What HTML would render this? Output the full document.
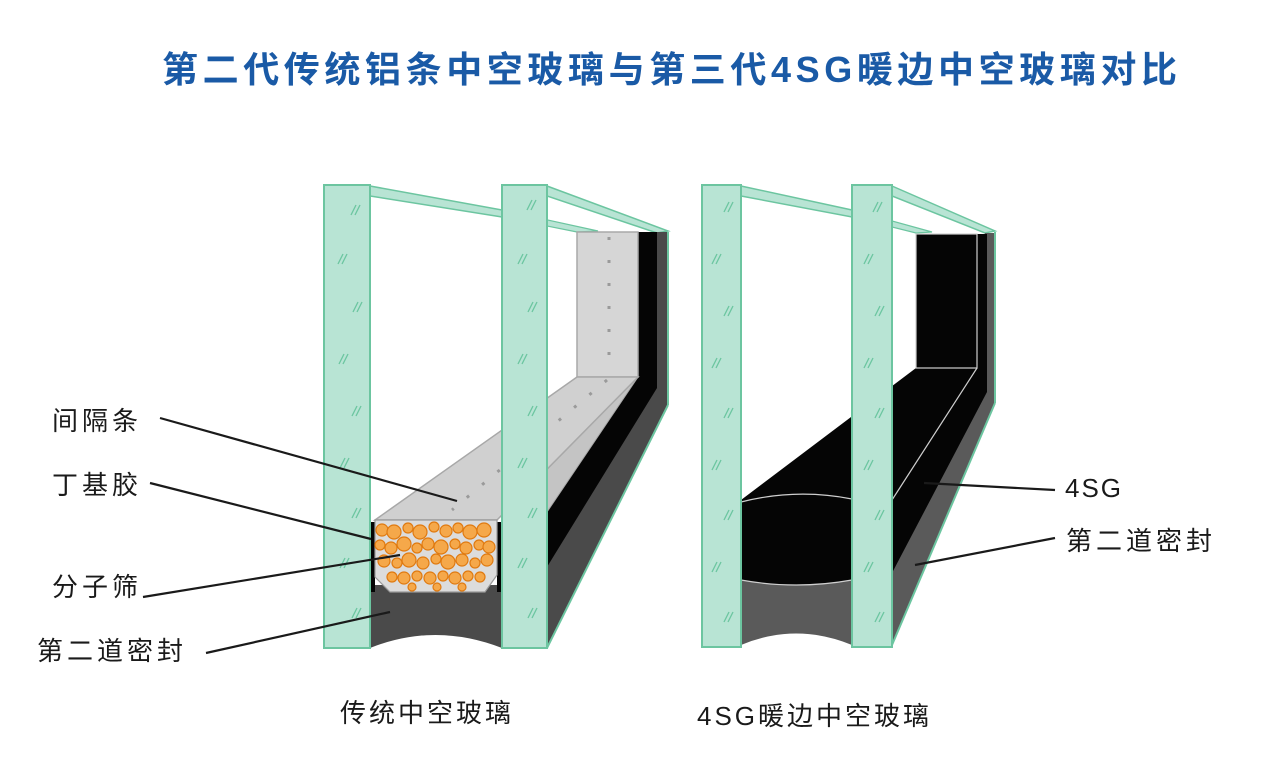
<!DOCTYPE html>
<html><head><meta charset="utf-8"><style>
html,body{margin:0;padding:0;background:#fff;width:1280px;height:778px;overflow:hidden}
svg{display:block}
.t{font-family:"Liberation Sans","Noto Sans CJK SC",sans-serif}
</style></head><body>
<svg width="1280" height="778" viewBox="0 0 1280 778" xmlns="http://www.w3.org/2000/svg">
<defs>
<g id="sl"><line x1="0" y1="6" x2="5" y2="-4" stroke="#6cc5a0" stroke-width="1.3"/><line x1="4" y1="6" x2="9" y2="-4" stroke="#6cc5a0" stroke-width="1.3"/></g>
</defs>
<text class="t" x="162" y="82" font-size="36" font-weight="bold" fill="#1a5aa6" letter-spacing="4.6">第二代传统铝条中空玻璃与第三代4SG暖边中空玻璃对比</text>

<!-- LEFT DIAGRAM -->
<polygon points="370,186 502,210 502,217 370,196" fill="#b8e4d4" stroke="#6cc5a0" stroke-width="1.5"/>
<polygon points="502,210 598,231 577,232 502,217" fill="#b8e4d4" stroke="#6cc5a0" stroke-width="1.2"/>
<polygon points="547,186 668,231 657,233 547,196" fill="#b8e4d4" stroke="#6cc5a0" stroke-width="1.5"/>
<polygon points="655,232 668,232 668,405 547,648 547,560" fill="#4a4a4a"/>
<path d="M370,585 L502,585 L502,648 Q435,622 370,648 Z" fill="#4a4a4a"/>
<polygon points="638,232 657,232 657,388 547,567 547,510 638,377" fill="#050505"/>
<polygon points="547,467 638,377 547,512" fill="#c4c4c4" stroke="#a8a8a8" stroke-width="1"/>
<rect x="577" y="232" width="61" height="145" fill="#d6d6d6" stroke="#a8a8a8" stroke-width="1.5"/>
<polygon points="375,520 577,377 638,377 497,520" fill="#d0d0d0" stroke="#a8a8a8" stroke-width="1.5"/>
<line x1="609" y1="237" x2="609" y2="375" stroke="#9a9a9a" stroke-width="3" stroke-dasharray="3,20"/>
<line x1="607" y1="380" x2="452" y2="510" stroke="#9a9a9a" stroke-width="3" stroke-dasharray="3,17"/>
<rect x="369" y="522" width="6" height="70" fill="#050505"/>
<rect x="497" y="522" width="6" height="70" fill="#050505"/>
<polygon points="375,520 497,520 497,575 485,592 390,592 375,577" fill="#dcdcdc" stroke="#999" stroke-width="1.2"/>
<g fill="#f5a84a" stroke="#e07a10" stroke-width="1.2">
<circle cx="382" cy="530" r="6"/><circle cx="394" cy="532" r="7"/><circle cx="408" cy="528" r="5"/><circle cx="420" cy="532" r="7"/><circle cx="434" cy="527" r="5"/><circle cx="446" cy="531" r="6"/><circle cx="458" cy="528" r="5"/><circle cx="470" cy="532" r="7"/><circle cx="484" cy="530" r="7"/>
<circle cx="380" cy="545" r="5"/><circle cx="391" cy="548" r="6"/><circle cx="404" cy="544" r="7"/><circle cx="417" cy="548" r="5"/><circle cx="428" cy="544" r="6"/><circle cx="441" cy="547" r="7"/><circle cx="455" cy="544" r="5"/><circle cx="466" cy="548" r="6"/><circle cx="479" cy="545" r="5"/><circle cx="489" cy="547" r="6"/>
<circle cx="384" cy="561" r="6"/><circle cx="397" cy="563" r="5"/><circle cx="409" cy="560" r="7"/><circle cx="423" cy="563" r="6"/><circle cx="436" cy="559" r="5"/><circle cx="448" cy="562" r="7"/><circle cx="462" cy="560" r="6"/><circle cx="475" cy="563" r="5"/><circle cx="487" cy="560" r="6"/>
<circle cx="392" cy="577" r="5"/><circle cx="404" cy="578" r="6"/><circle cx="417" cy="576" r="5"/><circle cx="430" cy="578" r="6"/><circle cx="443" cy="576" r="5"/><circle cx="455" cy="578" r="6"/><circle cx="468" cy="576" r="5"/><circle cx="480" cy="577" r="5"/>
<circle cx="412" cy="587" r="4"/><circle cx="437" cy="587" r="4"/><circle cx="462" cy="587" r="4"/>
</g>
<rect x="324" y="185" width="46" height="463" fill="#b8e4d4" stroke="#6cc5a0" stroke-width="2"/>
<rect x="502" y="185" width="45" height="463" fill="#b8e4d4" stroke="#6cc5a0" stroke-width="2"/>
<line x1="547" y1="648" x2="668" y2="405" stroke="#6cc5a0" stroke-width="2"/>
<line x1="668" y1="232" x2="668" y2="405" stroke="#6cc5a0" stroke-width="2"/>
<g>
<use href="#sl" x="351" y="209"/><use href="#sl" x="338" y="258"/><use href="#sl" x="353" y="306"/><use href="#sl" x="339" y="358"/><use href="#sl" x="352" y="410"/><use href="#sl" x="340" y="462"/><use href="#sl" x="352" y="512"/><use href="#sl" x="340" y="562"/><use href="#sl" x="352" y="612"/>
<use href="#sl" x="527" y="204"/><use href="#sl" x="518" y="258"/><use href="#sl" x="528" y="306"/><use href="#sl" x="518" y="358"/><use href="#sl" x="528" y="410"/><use href="#sl" x="518" y="462"/><use href="#sl" x="528" y="512"/><use href="#sl" x="518" y="562"/><use href="#sl" x="528" y="612"/>
</g>

<!-- RIGHT DIAGRAM -->
<polygon points="741,186 852,210 852,217 741,196" fill="#b8e4d4" stroke="#6cc5a0" stroke-width="1.5"/>
<polygon points="852,210 932,232 916,233 852,217" fill="#b8e4d4" stroke="#6cc5a0" stroke-width="1.2"/>
<polygon points="892,186 995,231 985,233 892,196" fill="#b8e4d4" stroke="#6cc5a0" stroke-width="1.5"/>
<polygon points="985,233 995,233 995,403 892,645 892,560" fill="#5a5a5a"/>
<path d="M741,578 L852,578 L852,645 Q796,622 741,645 Z" fill="#5a5a5a"/>
<path d="M741,500 L916,368 L916,234 L987,234 L987,392 L892,573 L852,580 Q796,590 741,580 Z" fill="#050505"/>
<rect x="916" y="234" width="61" height="134" fill="#050505" stroke="#cfcfcf" stroke-width="1.2"/>
<line x1="977" y1="368" x2="892" y2="500" stroke="#cfcfcf" stroke-width="1.2"/>
<path d="M741,502 Q796,488 852,499" fill="none" stroke="#cfcfcf" stroke-width="1.2"/>
<path d="M741,580 Q796,590 852,580" fill="none" stroke="#cfcfcf" stroke-width="1.2"/>
<rect x="702" y="185" width="39" height="462" fill="#b8e4d4" stroke="#6cc5a0" stroke-width="2"/>
<rect x="852" y="185" width="40" height="462" fill="#b8e4d4" stroke="#6cc5a0" stroke-width="2"/>
<line x1="892" y1="645" x2="995" y2="403" stroke="#6cc5a0" stroke-width="2"/>
<line x1="995" y1="232" x2="995" y2="403" stroke="#6cc5a0" stroke-width="2"/>
<g>
<use href="#sl" x="724" y="206"/><use href="#sl" x="712" y="258"/><use href="#sl" x="724" y="310"/><use href="#sl" x="712" y="362"/><use href="#sl" x="724" y="412"/><use href="#sl" x="712" y="464"/><use href="#sl" x="724" y="514"/><use href="#sl" x="712" y="566"/><use href="#sl" x="724" y="616"/>
<use href="#sl" x="873" y="206"/><use href="#sl" x="864" y="258"/><use href="#sl" x="875" y="310"/><use href="#sl" x="864" y="362"/><use href="#sl" x="875" y="412"/><use href="#sl" x="864" y="464"/><use href="#sl" x="875" y="514"/><use href="#sl" x="864" y="566"/><use href="#sl" x="875" y="616"/>
</g>

<g stroke="#1a1a1a" stroke-width="2.2">
<line x1="160" y1="418" x2="457" y2="501"/>
<line x1="150" y1="483" x2="371" y2="539"/>
<line x1="143" y1="597" x2="400" y2="555"/>
<line x1="206" y1="653" x2="390" y2="612"/>
<line x1="924" y1="483" x2="1055" y2="490"/>
<line x1="915" y1="565" x2="1055" y2="538"/>
</g>
<g class="t" font-size="26" fill="#1a1a1a" letter-spacing="4">
<text x="52" y="430">间隔条</text>
<text x="52" y="494">丁基胶</text>
<text x="52" y="596">分子筛</text>
<text x="37" y="660">第二道密封</text>
<text x="1065" y="497" letter-spacing="2">4SG</text>
<text x="1066" y="550">第二道密封</text>
<text x="340" y="722" letter-spacing="3">传统中空玻璃</text>
<text x="697" y="725" letter-spacing="3">4SG暖边中空玻璃</text>
</g>
</svg>
</body></html>
